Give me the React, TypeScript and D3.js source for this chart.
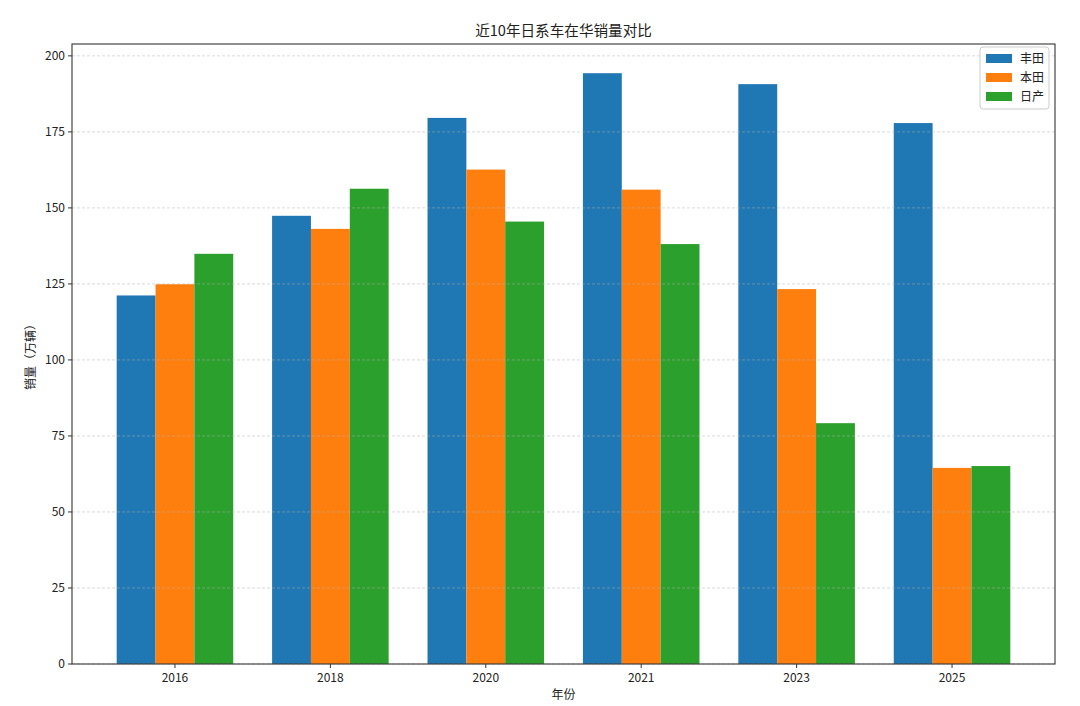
import React from "react";
import * as d3 from "d3";

const years = ["2016", "2018", "2020", "2021", "2023", "2025"];
const seriesNames = ["丰田", "本田", "日产"];
const colors = ["#1f77b4", "#ff7f0e", "#2ca02c"];
const toyota = [121.2, 147.4, 179.6, 194.3, 190.7, 177.9];
const honda = [124.9, 143.1, 162.6, 156.0, 123.3, 64.5];
const nissan = [134.9, 156.3, 145.5, 138.1, 79.2, 65.1];
const yTicks = [0, 25, 50, 75, 100, 125, 150, 175, 200];

const W = 1080;
const H = 706;
const L = 72, R = 1055, T = 44, B = 664;
const FONT = "'Noto Sans CJK SC', 'Noto Sans', sans-serif";

export default function App() {
  const series = [toyota, honda, nissan];
  const barW = 0.25;
  const x = d3.scaleLinear().domain([-0.6625, 5.6625]).range([L, R]);
  const y = d3.scaleLinear().domain([0, 203.9]).range([B, T]);
  const bw = x(barW) - x(0);

  return (
    <svg width={W} height={H} style={{ position: "absolute", left: 0, top: 0, background: "#fff" }} fontFamily={FONT}>
      <rect x={0} y={0} width={W} height={H} fill="#fff" />
      {/* bars */}
      {series.map((s, si) =>
        s.map((v, i) => {
          const cx = x(i + (si - 1) * barW);
          return (
            <rect key={si + "-" + i} x={cx - bw / 2} y={y(v)} width={bw} height={y(0) - y(v)} fill={colors[si]} />
          );
        })
      )}
      {/* grid */}
      {yTicks.map((t) => (
        <line key={"g" + t} x1={L} x2={R} y1={y(t)} y2={y(t)} stroke="#b0b0b0" strokeOpacity={0.6} strokeWidth={0.8} strokeDasharray="3,2" />
      ))}
      {/* frame */}
      <rect x={L} y={T} width={R - L} height={B - T} fill="none" stroke="#333" strokeWidth={1.1} />
      {/* y ticks */}
      {yTicks.map((t) => (
        <g key={"y" + t}>
          <line x1={L - 4} x2={L} y1={y(t)} y2={y(t)} stroke="#333" />
          <text x={L - 7} y={y(t)} dy="0.35em" textAnchor="end" fontSize={12} fill="#222">{t}</text>
        </g>
      ))}
      {/* x ticks */}
      {years.map((yr, i) => (
        <g key={yr}>
          <line x1={x(i)} x2={x(i)} y1={B} y2={B + 4} stroke="#333" />
          <text x={x(i)} y={B + 18} textAnchor="middle" fontSize={12} fill="#222">{yr}</text>
        </g>
      ))}
      <text x={(L + R) / 2} y={36} textAnchor="middle" fontSize={14.6} fill="#222">近10年日系车在华销量对比</text>
      <text x={(L + R) / 2} y={699} textAnchor="middle" fontSize={12} fill="#222">年份</text>
      <text transform={`translate(35,${(T + B) / 2}) rotate(-90)`} textAnchor="middle" fontSize={12} fill="#222">销量（万辆）</text>
      {/* legend */}
      <g>
        <rect x={980} y={47} width={69} height={62} rx={3} fill="#fff" fillOpacity={0.8} stroke="#ccc" strokeWidth={1} />
        {seriesNames.map((n, i) => (
          <g key={n}>
            <rect x={986} y={54 + i * 19} width={26} height={9} fill={colors[i]} />
            <text x={1020} y={58.5 + i * 19} dy="0.35em" fontSize={12} fill="#222">{n}</text>
          </g>
        ))}
      </g>
    </svg>
  );
}
